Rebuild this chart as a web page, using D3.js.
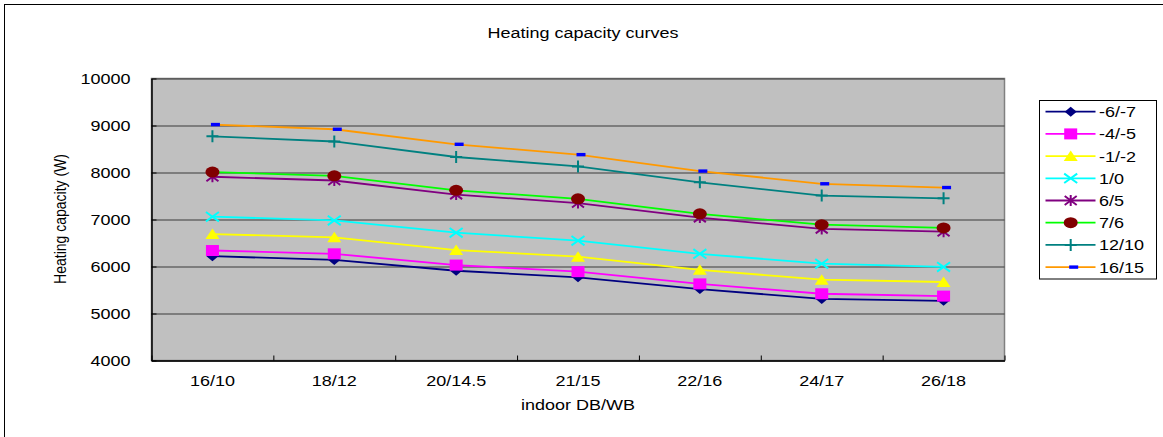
<!DOCTYPE html>
<html><head><meta charset="utf-8">
<script src="https://cdn.jsdelivr.net/npm/d3@7"></script>
<style>
html,body{margin:0;padding:0;background:#fff;}
svg text{font-family:"Liberation Sans",Arial,sans-serif;fill:#000;}
</style></head>
<body><div id="chart"></div>
<script>
const categories = ["16/10","18/12","20/14.5","21/15","22/16","24/17","26/18"];
const seriesNames = ["-6/-7","-4/-5","-1/-2","1/0","6/5","7/6","12/10","16/15"];
const s_m6m7  = [6220,6140,5910,5770,5520,5310,5270];
const s_m4m5  = [6340,6270,6030,5890,5630,5420,5370];
const s_m1m2  = [6690,6620,6350,6210,5930,5720,5670];
const s_1_0   = [7060,6980,6720,6550,6270,6060,5990];
const s_6_5   = [7910,7830,7530,7350,7040,6800,6740];
const s_7_6   = [8010,7930,7620,7440,7120,6890,6820];
const s_12_10 = [8770,8660,8330,8130,7790,7510,7450];
const s_16_15 = [9020,8920,8600,8380,8030,7760,7680];
const yTicks = [4000,5000,6000,7000,8000,9000,10000];
const seriesValues = [s_m6m7,s_m4m5,s_m1m2,s_1_0,s_6_5,s_7_6,s_12_10,s_16_15];
const lineColors = ["#000080","#ff00ff","#ffff00","#00ffff","#800080","#00ff00","#008080","#ff9900"];
const markerTypes = ["diamond","square","triangle","x","asterisk","circle","plus","dash"];
const markerColors = ["#000080","#ff00ff","#ffff00","#00ffff","#800080","#800000","#008080","#0000ff"];

const W = 1163, H = 437;
const L = 151.5, R = 1004.5, T = 78.5, B = 360.5;
const SX = 1.2; // horizontal text stretch

const svg = d3.select("#chart").append("svg").attr("width", W).attr("height", H);

// outer frame
svg.append("rect").attr("x",4.5).attr("y",4.5).attr("width",1300).attr("height",600)
  .attr("fill","#fff").attr("stroke","#000").attr("stroke-width",1);

// title
svg.append("text").attr("transform","translate(583,38) scale("+SX+",1)")
  .attr("text-anchor","middle").style("font-size","15px").text("Heating capacity curves");

const x = d3.scaleBand().domain(categories).range([L, R]).padding(0);
const xb = d3.scaleLinear().domain([0, categories.length]).range([L, R]);
const y = d3.scaleLinear().domain([4000, 10000]).range([B, T]);
const cx = c => x(c) + x.bandwidth()/2;

// plot area
svg.append("rect").attr("x",L).attr("y",T).attr("width",R-L).attr("height",B-T)
  .attr("fill","#c0c0c0").attr("stroke","#808080").attr("stroke-width",1.5);

// grid
const grid = svg.append("g").attr("transform",`translate(${L},0)`)
  .call(d3.axisLeft(y).tickValues(yTicks).tickSize(-(R-L)).tickFormat(""));
grid.select(".domain").remove();
grid.selectAll("line").attr("stroke","#3a3a3a").attr("stroke-width",1.2);

// y axis
const ya = svg.append("g").attr("transform",`translate(${L},0)`)
  .call(d3.axisLeft(y).tickValues(yTicks).tickSizeInner(-5).tickSizeOuter(0).tickFormat(d3.format("d")));
ya.select(".domain").attr("stroke","#000").attr("stroke-width",1.5);
ya.selectAll("line").attr("stroke","#000");
ya.selectAll("text").attr("x",0).attr("transform","translate(-21,0) scale("+SX+",1)")
  .style("font-size","15px").attr("fill","#000");

// x axis ticks at boundaries
const xt = svg.append("g").attr("transform",`translate(0,${B})`)
  .call(d3.axisBottom(xb).tickValues(d3.range(0, categories.length+1)).tickSizeInner(-5).tickSizeOuter(0).tickFormat(""));
xt.select(".domain").attr("stroke","#000").attr("stroke-width",1.5);
xt.selectAll("line").attr("stroke","#000");

// x labels
const xl = svg.append("g").attr("transform",`translate(0,${B})`)
  .call(d3.axisBottom(x).tickSize(0));
xl.select(".domain").remove();
xl.selectAll("text").attr("y",0).attr("dy","0.71em").attr("transform","translate(0,15) scale("+SX+",1)")
  .attr("x", 0).style("font-size","15px").attr("fill","#000");
xl.selectAll(".tick").each(function(){
  const t = d3.select(this).attr("transform");
});
// the tick groups are translated horizontally; scaling text in group-local coords keeps center at 0

// axis titles
svg.append("text").attr("transform","translate(578,409.5) scale("+SX+",1)")
  .attr("text-anchor","middle").style("font-size","15px").text("indoor DB/WB");
svg.append("text").attr("transform","translate(65.5,219) rotate(-90) scale(1,"+SX+")")
  .attr("text-anchor","middle").style("font-size","14px").text("Heating capacity (W)");

function drawMarker(g, type, color){
  switch(type){
    case "diamond": g.append("path").attr("d","M0,-5L6,0L0,5L-6,0Z").attr("fill",color); break;
    case "square": g.append("rect").attr("x",-6.5).attr("y",-5.5).attr("width",13).attr("height",11).attr("fill",color); break;
    case "triangle": g.append("path").attr("d","M0,-5.5L7,5L-7,5Z").attr("fill",color); break;
    case "x": g.append("path").attr("d","M-6.5,-4.7L6.5,4.7M-6.5,4.7L6.5,-4.7").attr("stroke",color).attr("stroke-width",2).attr("fill","none"); break;
    case "asterisk": g.append("path").attr("d","M-6,-4.5L6,4.5M-6,4.5L6,-4.5M0,-5.5L0,5.5").attr("stroke",color).attr("stroke-width",2).attr("fill","none"); break;
    case "circle": g.append("ellipse").attr("rx",7).attr("ry",5.5).attr("fill",color); break;
    case "plus": g.append("path").attr("d","M0,-6L0,6M-6,0L6,0").attr("stroke",color).attr("stroke-width",2).attr("fill","none"); break;
    case "dash": g.append("rect").attr("x",-1.5).attr("y",-1.7).attr("width",9).attr("height",3.4).attr("fill",color); break;
  }
}

const line = d3.line().x((d,i)=>cx(categories[i])).y(d=>y(d));
seriesValues.forEach((vals, si) => {
  const g = svg.append("g");
  g.append("path").datum(vals).attr("d", line).attr("fill","none")
    .attr("stroke", lineColors[si]).attr("stroke-width", 1.8);
  vals.forEach((v,i) => {
    const mg = g.append("g").attr("transform",`translate(${cx(categories[i])},${y(v)})`);
    drawMarker(mg, markerTypes[si], markerColors[si]);
  });
});

// legend
const lg = svg.append("g");
lg.append("rect").attr("x",1039.5).attr("y",100.5).attr("width",117).attr("height",178.5)
  .attr("fill","#fff").attr("stroke","#000").attr("stroke-width",1);
seriesNames.forEach((n, i) => {
  const yy = 111.7 + i*22.2;
  lg.append("line").attr("x1",1045.5).attr("x2",1095.5).attr("y1",yy).attr("y2",yy)
    .attr("stroke",lineColors[i]).attr("stroke-width",1.8);
  drawMarker(lg.append("g").attr("transform",`translate(1070.7,${yy})`), markerTypes[i], markerColors[i]);
  lg.append("text").attr("transform",`translate(1099,${yy}) scale(${SX},1)`).attr("dy","0.36em")
    .style("font-size","15px").text(n);
});
</script></body></html>
